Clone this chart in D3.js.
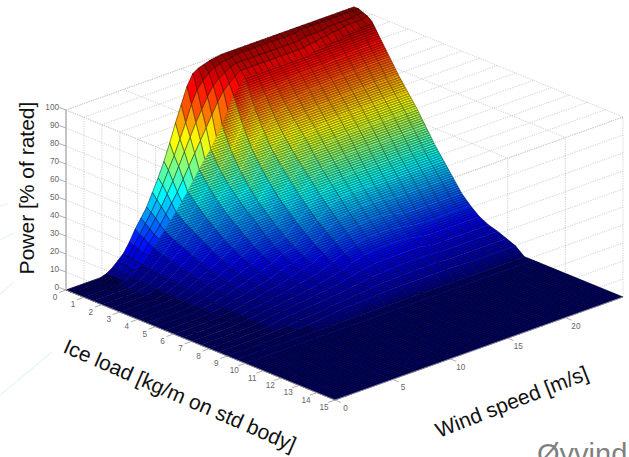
<!DOCTYPE html>
<html><head><meta charset="utf-8">
<script src="https://cdn.jsdelivr.net/npm/d3@7/dist/d3.min.js"></script>
<style>html,body{margin:0;padding:0;background:#fff;overflow:hidden}svg{display:block}text{font-family:"Liberation Sans",Arial,sans-serif}</style>
</head><body><svg id="c" width="629" height="457"></svg>
<script>
const iceTicks=d3.range(0,16), windTicks=[0,5,10,15,20], powerTicks=d3.range(0,101,10);
const titles={power:"Power [% of rated]",ice:"Ice load [kg/m on std body]",wind:"Wind speed [m/s]",author:"Øyvind"};

// Low-ice strip: fine wind spacing
const frontIce=[0,0.25,0.5,0.75,1];
const frontWind=[0,3,3.5,4,4.5,5,5.5,6,6.5,7,7.5,8,8.5,9,9.5,10,10.5,11,11.5,12,12.5,13,13.5,14,14.5,15,15.5,16,16.5,17,17.5,18,18.5,19,19.5,20,20.5,21,21.5,22,22.5,23,23.5,24,24.5,25];
const frontPower=[
[0,0,1,3,6,9,14,20,25,30,37,44,52,61,71,80,89,95,97,98,99,99.5,100,100,100,100,100,100,100,100,100,100,100,100,100,100,100,100,100,100,100,100,100,100,100,100],
[0,0,1,3,5,8,13,18,23,28,34,41,48,55,63,71,80,87,91,94,96,97,98,98,99,99,99,99,99,99,99,99,99,99,99,100,100,100,100,100,100,100,100,100,100,100],
[0,0,1,3,5,8,12,17,21,26,31,37,43,50,57,64,71,77,83,88,91,93,95,96,96,96,96,96,96,96,96,96,96,96,96,97,97,97,97,98,98,98,98,98,99,99],
[0,0,1,2,4,7,11,15,19,23,28,33,38,44,50,56,62,68,74,80,85,88,91,93,93,93,93,93,93,93,93,93,93,93,93,94,94,95,95,96,96,97,97,97,97,98],
[0,0,1,2,4.5,7,10.5,14,17.5,21,25,29,33.5,38,43,48,52.5,57,62.5,68,75,82,86,90,90,90,90,90,90,90,90,90,90,90,90,91,91.5,92,92.5,93,93.5,94,94.5,95,95.5,96]
];
// Main sheet: whole-m/s wind spacing
const mainWind=d3.range(0,26);
const mainIce=[1,1.5,2,2.5,3,3.5,4,4.5,5,5.5,6,6.5,7,7.5,8,8.5,9,9.5,10,15];
const mainPower=[
[0,0,0,0,2,7,14,21,29,38,48,57,68,82,90,90,90,90,90,90,91,92,93,94,95,96],
[0,0,0,0,1.8,6,12,18,25,33,41,48,56,68,76,80,82,84,85,85,85,86,86,87,87,88],
[0,0,0,0,1.6,5.3,10.5,16,22,28,35,41,47,57,65,70,74,76,78,78,79,79,79,80,80,80],
[0,0,0,0,1.4,4.5,9,13.5,19,24,30,36,40,49,56,62,67,69,71,71,72,72,72,72,72,72],
[0,0,0,0,1.2,3.8,7.5,11.5,16,20,26,31,34,42,49,55,61,63,64,65,65,65,65,65,65,65],
[0,0,0,0,1,3.2,6.3,9.5,13,17,22,27,29,36,43,49,54,56,57,58,58,58,58,58,58,58],
[0,0,0,0,0.8,2.7,5.3,8,11,14,18,22,24.5,31,37,43,47,49,50,50,50,50,50,50,50,50],
[0,0,0,0,0.7,2.2,4.3,6.5,9,11.5,15,18,20.5,26,32,37,41,42,43,42,42,42,42,42,42,42],
[0,0,0,0,0.6,1.8,3.5,5.3,7.5,9.5,12,15,17,22,27,32,35,36,36,35,35,35,35,35,35,35],
[0,0,0,0,0.5,1.4,2.8,4.3,6,7.5,10,12,14,18,23,27,29,30,30,29,28,28,28,28,28,28],
[0,0,0,0,0.4,1.2,2.4,3.6,4.9,6.2,8,10,11.5,15,19,22,24,24.5,24.5,23,21.5,21,21,21,21,21],
[0,0,0,0,0.3,1,2,3,4,5,6.5,8,9.5,12,15,17.5,19,19,19,18,16.5,16,16,16,16,16],
[0,0,0,0,0.3,0.9,1.8,2.7,3.5,4.3,5.4,6.5,7.8,9.5,12,13.5,14.5,14.5,14.5,14,12.5,12,12,12,12,12],
[0,0,0,0,0.2,0.8,1.7,2.6,3.2,4,4.8,5.5,6.5,8,9.5,10.5,11,11,11,11,9.5,9.5,9.5,9.5,9.5,9.5],
[0,0,0,0,0.1,0.8,1.6,2.5,3,3.5,4.2,4.8,5.5,6.5,7.5,8,8.5,8.5,8.5,8.5,8,8,8,8,8,8],
[0,0,0,0,0.1,0.6,1,1.6,2,2.5,3.5,3.8,4.5,5,6,6,6.5,6.5,6.5,6.5,6,6,6,6,6,6],
[0,0,0,0,0,0.5,0.8,1.2,1.8,2.5,3.5,3.5,3.8,4,4.5,4.5,4.5,4.5,4.5,4.5,4.2,4,4,4,4,4],
[0,0,0,0,0,0,0,0,0,0,0,0,0,0,0,0,0,0,0,0,0,0,0,0,0,0],
[0,0,0,0,0,0,0,0,0,0,0,0,0,0,0,0,0,0,0,0,0,0,0,0,0,0],
[0,0,0,0,0,0,0,0,0,0,0,0,0,0,0,0,0,0,0,0,0,0,0,0,0,0]
];

const svg=d3.select("#c");
const ox=66, oy=290;
const wx=d3.scaleLinear([0,25],[0,288]), wy=d3.scaleLinear([0,25],[0,-103]);
const ix=d3.scaleLinear([0,15],[0,269]), iy=d3.scaleLinear([0,15],[0,110]);
const pz=d3.scaleLinear([0,100],[0,-180]);
const P=(i,w,p)=>[ox+ix(i)+wx(w), oy+iy(i)+wy(w)+pz(p)];
const line=d3.line();
const jetStops=[[0,[0,0,.5]],[.125,[0,0,1]],[.375,[0,1,1]],[.625,[1,1,0]],[.875,[1,0,0]],[1,[.5,0,0]]];
const jet=d3.scaleLinear(jetStops.map(d=>d[0]),jetStops.map(d=>d3.rgb(d[1][0]*255,d[1][1]*255,d[1][2]*255))).clamp(true);
const colour=p=>jet(Math.round(p/100*63)/63);

const defs=svg.append("defs");
function hatch(id,period,op){
  const pat=defs.append("pattern").attr("id",id).attr("patternUnits","userSpaceOnUse")
    .attr("width",period).attr("height",period).attr("patternTransform","rotate(-19.7)");
  pat.append("rect").attr("width",period).attr("height",period*0.55).attr("fill","#000").attr("fill-opacity",op);
}
hatch("dense",2.3,0.46);
hatch("denser",2.1,0.72);

// decorative swooshes of the slide
const sw=svg.append("g").attr("fill","none").attr("stroke","#e3f5f8").attr("stroke-width",1.2);
[[[0,206],[8,204]],[[0,240],[14,233]],[[0,294],[14,282]],[[0,395],[28,372],[52,352]]].forEach(p=>sw.append("path").attr("d",d3.line().curve(d3.curveBasis)(p)));

// grid on the three panels
const grid=svg.append("g").attr("fill","none").attr("stroke","#c4c4c4").attr("stroke-width",0.8).attr("stroke-dasharray","1.2 1.2");
const seg=(a,b)=>grid.append("path").attr("d",line([a,b]));
powerTicks.forEach(p=>{ seg(P(0,0,p),P(15,0,p)); seg(P(15,0,p),P(15,25,p)); });
iceTicks.forEach(i=>{ seg(P(i,0,0),P(i,0,100)); seg(P(i,0,100),P(i,25,100)); });
windTicks.concat([25]).forEach(w=>{ seg(P(15,w,0),P(15,w,100)); seg(P(0,w,100),P(15,w,100)); });
seg(P(0,0,100),P(0,25,100));

// surface facets, far to near
const quads=[];
function addSheet(ice,wind,pow,kind){
  for(let r=0;r<ice.length-1;r++)for(let c=0;c<wind.length-1;c++){
    const v=[pow[r][c],pow[r][c+1],pow[r+1][c+1],pow[r+1][c]];
    quads.push({kind,v,mean:d3.mean(v),
      depth:iy((ice[r]+ice[r+1])/2)+wy((wind[c]+wind[c+1])/2),
      pts:[P(ice[r],wind[c],v[0]),P(ice[r],wind[c+1],v[1]),P(ice[r+1],wind[c+1],v[2]),P(ice[r+1],wind[c],v[3])]});
  }
}
addSheet(frontIce,frontWind,frontPower,"front");
addSheet(mainIce,mainWind,mainPower,"main");
quads.sort((a,b)=>a.depth-b.depth);
const surf=svg.append("g");
let gid=0;
function cellGradient(q){
  const [a,b,c,d]=q.pts;
  const top=[(a[0]+b[0])/2,(a[1]+b[1])/2], bot=[(c[0]+d[0])/2,(c[1]+d[1])/2];
  const ex=b[0]-a[0], ey=b[1]-a[1], l=Math.hypot(ex,ey)||1, nx=-ey/l, ny=ex/l;
  const s=(bot[0]-top[0])*nx+(bot[1]-top[1])*ny;
  const id="g"+(gid++);
  const g=defs.append("linearGradient").attr("id",id).attr("gradientUnits","userSpaceOnUse")
    .attr("x1",top[0]).attr("y1",top[1]).attr("x2",top[0]+nx*s).attr("y2",top[1]+ny*s);
  const p0=(q.v[0]+q.v[1])/2, p1=(q.v[2]+q.v[3])/2;
  d3.range(0,1.01,0.25).forEach(t=>g.append("stop").attr("offset",t).attr("stop-color",jet((p0+(p1-p0)*t)/100)));
  return "url(#"+id+")";
}
quads.forEach(q=>{
  const d=line(q.pts)+"Z", col=colour(q.mean);
  const flat=d3.max(q.v)<1.5;
  const fill=(q.kind==="main"&&!flat)?cellGradient(q):col;
  surf.append("path").attr("d",d).attr("fill",fill).attr("stroke",fill).attr("stroke-width",0.4);
  if(q.kind==="main") surf.append("path").attr("d",d).attr("fill",flat?"url(#denser)":"url(#dense)");
  else if(flat) surf.append("path").attr("d",d).attr("fill","url(#denser)");
  if(q.kind==="front"){
    surf.append("path").attr("d",d).attr("fill","none").attr("stroke","#000").attr("stroke-width",0.55).attr("stroke-opacity",0.8);
  }else{
    surf.append("path").attr("d",line([q.pts[0],q.pts[3]])).attr("fill","none").attr("stroke","#000").attr("stroke-width",0.6).attr("stroke-opacity",0.55);
    surf.append("path").attr("d",line([q.pts[1],q.pts[2]])).attr("fill","none").attr("stroke","#000").attr("stroke-width",0.6).attr("stroke-opacity",0.55);
  }
});

// axes
const ax=svg.append("g").attr("stroke","#9a9a9a").attr("fill","none");
ax.append("path").attr("d",line([P(0,0,0),P(0,0,100)])).attr("stroke","#b5b5b5").attr("stroke-width",1.5);
ax.append("path").attr("d",line([P(0,0,0),P(15,0,0)])).attr("stroke-width",0.8);
ax.append("path").attr("d",line([P(15,0,0),P(15,25,0)])).attr("stroke-width",0.8);
const lab=svg.append("g").attr("fill","#666").attr("font-size",8.2).attr("text-anchor","middle");
powerTicks.forEach(p=>{
  const a=P(0,0,p);
  ax.append("path").attr("d",line([a,[a[0]-7,a[1]-2.5]])).attr("stroke-width",0.8);
  lab.append("text").attr("x",a[0]-7).attr("y",a[1]-0.5).attr("text-anchor","end").text(p);
});
iceTicks.forEach(i=>{
  const a=P(i,0,0);
  ax.append("path").attr("d",line([a,[a[0]-7,a[1]+2.5]])).attr("stroke-width",0.8);
  lab.append("text").attr("x",a[0]-11).attr("y",a[1]+10).text(i);
});
windTicks.forEach(w=>{
  const a=P(15,w,0);
  ax.append("path").attr("d",line([a,[a[0]+6,a[1]+2.5]])).attr("stroke-width",0.8);
  lab.append("text").attr("x",a[0]+10.5).attr("y",a[1]+11).text(w);
});

// titles
const t=svg.append("g").attr("fill","#111").attr("font-size",21);
t.append("text").attr("transform","translate(34,188) rotate(-90)").attr("text-anchor","middle").text(titles.power);
t.append("text").attr("transform","translate(62,352) rotate(23.5)").text(titles.ice);
t.append("text").attr("transform","translate(439,438) rotate(-21.4)").text(titles.wind);
svg.append("text").attr("x",537).attr("y",464).attr("font-size",29).attr("fill","#808080").text(titles.author);
</script></body></html>
